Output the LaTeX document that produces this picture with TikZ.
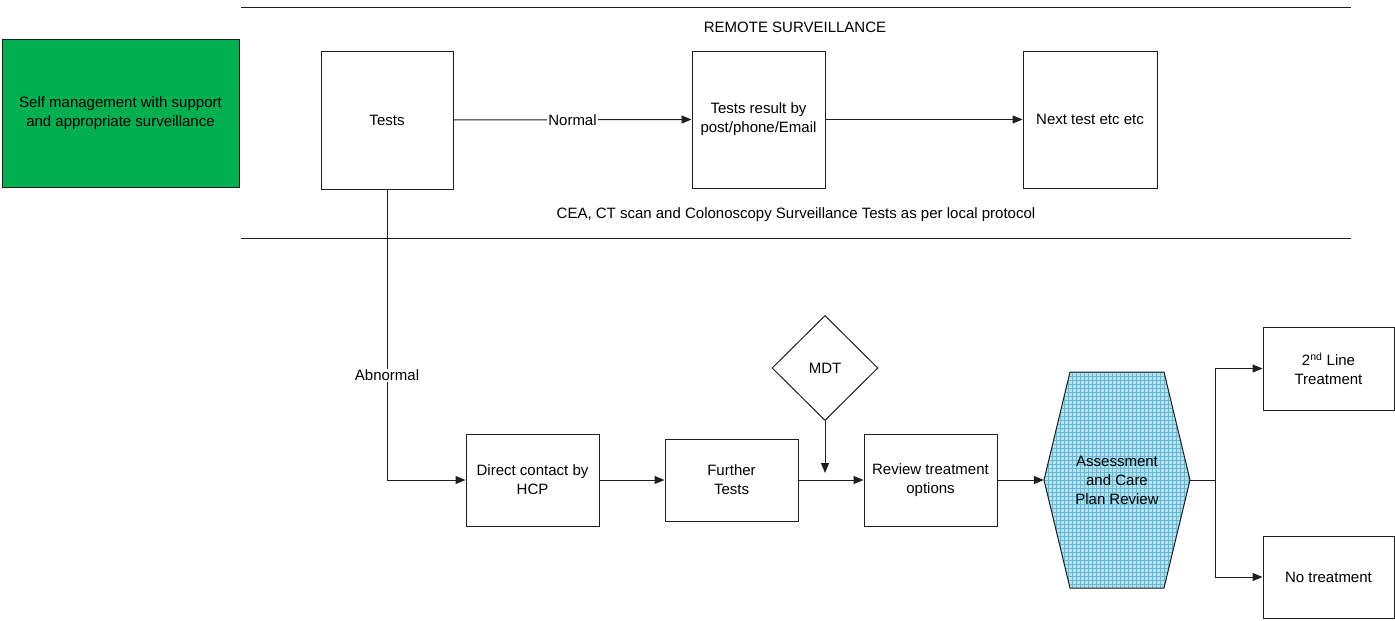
\documentclass[tikz,border=0pt]{standalone}
\usepackage{fontspec}
\setmainfont{Liberation Sans}
\usetikzlibrary{arrows.meta,shapes.geometric}
\definecolor{boxgreen}{RGB}{0,176,80}
\definecolor{hexbg}{RGB}{185,225,238}
\definecolor{hexgrid}{RGB}{95,185,215}
\definecolor{linegray}{RGB}{30,30,30}
\tikzset{
  txt/.style={font=\fontsize{15}{19}\selectfont, align=center, inner sep=0pt},
  box/.style={txt, draw=linegray, line width=1pt, fill=white},
  conn/.style={draw=linegray, line width=1pt},
  arr/.style={conn, -{Triangle[length=10pt,width=8pt]}},
  lab/.style={txt, fill=white, inner sep=1pt},
}
\begin{document}
\begin{tikzpicture}[x=1pt,y=-1pt]
\useasboundingbox (0,0) rectangle (1395,621);
% separator lines
\coordinate (t1) at (241,7); \coordinate (t2) at (1351,7);
\coordinate (b1) at (241,238); \coordinate (b2) at (1351,238);
\draw[conn] (t1) -- (t2);
\draw[conn] (b1) -- (b2);
\node[txt] (remote) at (795,27) {REMOTE SURVEILLANCE};
\node[txt] (cea) at (796,215) {CEA, CT scan and Colonoscopy Surveillance Tests as per local protocol};
% boxes
\node[box, fill=boxgreen, minimum width=237pt, minimum height=148pt] (self) at (120.5,113) {Self management with support\\and appropriate surveillance};
\node[box, minimum width=132pt, minimum height=138pt] (tests) at (387,120) {Tests};
\node[box, minimum width=133pt, minimum height=137pt] (result) at (758.5,119.5) {Tests result by\\post/phone/Email};
\node[box, minimum width=134pt, minimum height=137pt] (next) at (1090,119.5) {Next test etc etc};
\node[box, minimum width=133pt, minimum height=92pt] (direct) at (532.5,480) {Direct contact by\\HCP};
\node[box, minimum width=133pt, minimum height=82pt] (further) at (731.5,480) {Further\\Tests};
\node[box, minimum width=133pt, minimum height=92pt] (review) at (930.5,480) {Review treatment\\options};
\node[box, minimum width=131pt, minimum height=83pt] (second) at (1328.5,368.5) {2\textsuperscript{nd} Line\\Treatment};
\node[box, minimum width=131pt, minimum height=82pt] (notreat) at (1328.5,577) {No treatment};
\node[box, diamond, minimum width=106pt, minimum height=105pt] (mdt) at (825,368) {MDT};
% hexagon
\begin{scope}
  \clip (1044,480) -- (1070,372) -- (1164,372) -- (1190,480) -- (1164,588) -- (1070,588) -- cycle;
  \fill[hexbg] (1040,368) rectangle (1194,592);
  \draw[hexgrid, line width=0.7pt, step=4pt] (1040,368) grid (1194,592);
\end{scope}
\draw[conn] (1044,480) -- (1070,372) -- (1164,372) -- (1190,480) -- (1164,588) -- (1070,588) -- cycle;
\node[txt, minimum width=146pt, minimum height=216pt] (acp) at (1117,480) {Assessment\\and Care\\Plan Review};
% connectors
\draw[arr] (tests.east) -- node[lab] {Normal} (result.west);
\draw[arr] (result.east) -- (next.west);
\draw[arr] (tests.south) |- node[lab, pos=0.32] {Abnormal} (direct.west);
\draw[arr] (direct.east) -- (further.west);
\draw[arr] (further.east) -- (review.west);
\coordinate (mdtend) at (825,473);
\draw[arr] (mdt.south) -- (mdtend);
\draw[arr] (review.east) -- (acp.west);
\coordinate (br) at (1215,480);
\draw[conn] (acp.east) -- (br);
\draw[arr] (br) |- (second.west);
\draw[arr] (br) |- (notreat.west);
\end{tikzpicture}
\end{document}
